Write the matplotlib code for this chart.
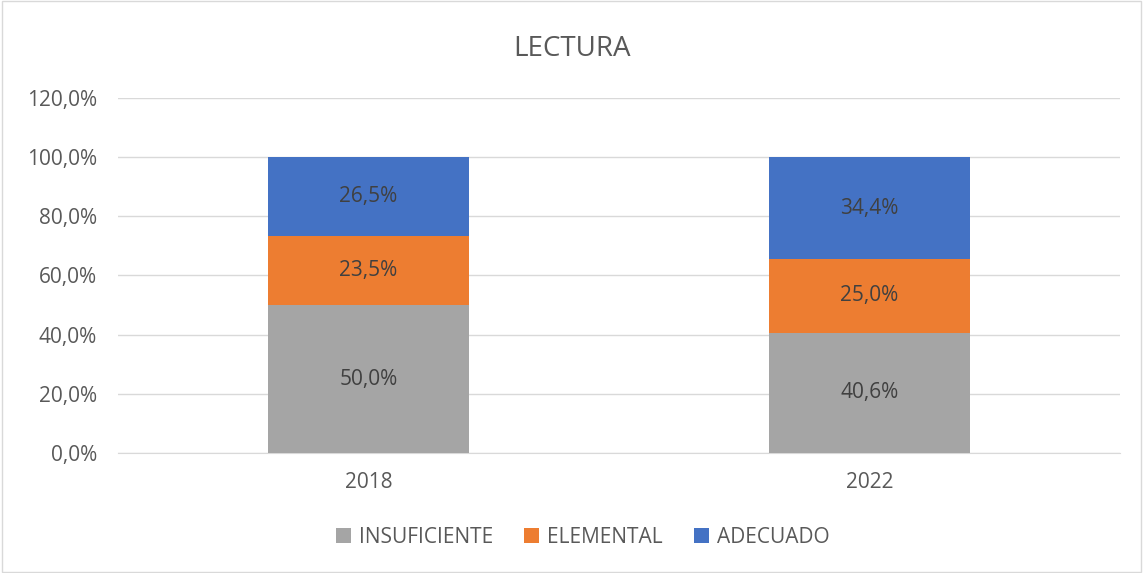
import matplotlib.pyplot as plt
from matplotlib.patches import Rectangle

years = ['2018', '2022']
insuficiente = [50.0, 40.6]
elemental = [23.5, 25.0]
adecuado = [26.5, 34.4]

series = [('INSUFICIENTE', insuficiente, '#A5A5A5'),
          ('ELEMENTAL', elemental, '#ED7D31'),
          ('ADECUADO', adecuado, '#4472C4')]

plt.rcParams['font.family'] = ['Open Sans', 'DejaVu Sans']
txt = '#595959'

fig = plt.figure(figsize=(11.43, 5.73), dpi=100)
ax = fig.add_axes([0.1032, 0.2094, 0.8766, 0.6196])

x = range(len(years))
bottom = [0, 0]
for name, vals, col in series:
    ax.bar(x, vals, 0.4, bottom=bottom, color=col, label=name, zorder=3)
    for xi, b, v in zip(x, bottom, vals):
        ax.text(xi, b + v / 2, f'{v:.1f}%'.replace('.', ','), ha='center', va='center',
                fontsize=15, color='#404040', zorder=4)
    bottom = [b + v for b, v in zip(bottom, vals)]

ax.set_xlim(-0.5, 1.5)
ax.set_ylim(0, 120)
ax.set_yticks(range(0, 121, 20))
ax.set_yticklabels([f'{t:.1f}%'.replace('.', ',') for t in range(0, 121, 20)])
ax.set_xticks(list(x))
ax.set_xticklabels(years)
ax.grid(axis='y', color='#D9D9D9', linewidth=1, zorder=0)
for s in ['top', 'right', 'left']:
    ax.spines[s].set_visible(False)
ax.spines['bottom'].set_color('#D9D9D9')
ax.tick_params(length=0, labelsize=15, colors=txt)
ax.tick_params(axis='x', pad=14)
ax.tick_params(axis='y', pad=15)

fig.text(0.5, 0.915, 'LECTURA', ha='center', va='center', fontsize=20, color=txt)

fig.legend(loc='center', bbox_to_anchor=(0.51, 0.062), ncol=3, frameon=False,
           fontsize=15, labelcolor=txt, handlelength=0.7, handleheight=0.7,
           columnspacing=1.5, handletextpad=0.4)

fig.patches.append(Rectangle((0.002, 0.002), 0.996, 0.996, transform=fig.transFigure,
                             fill=False, edgecolor='#D9D9D9', linewidth=1))

fig.savefig('out.png', dpi=100)
